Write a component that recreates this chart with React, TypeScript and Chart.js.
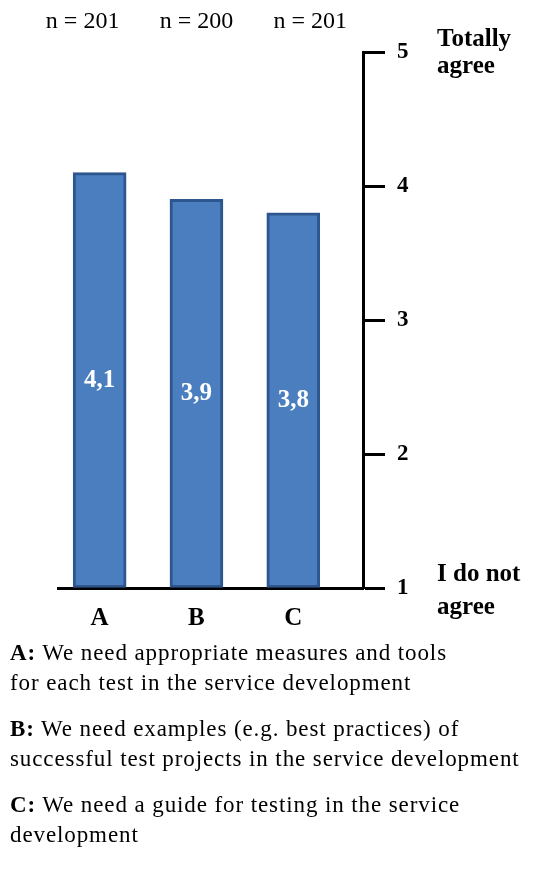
import React, { useEffect, useRef } from "react";
import { Chart, registerables } from "chart.js";

Chart.register(...registerables);

const categories = ["A", "B", "C"];
const means = [4.1, 3.9, 3.8];
const meanLabels = ["4,1", "3,9", "3,8"];
const sampleSizes = ["n = 201", "n = 200", "n = 201"];
const yMin = 1;
const yMax = 5;
const topCaption = ["Totally", "agree"];
const bottomCaption = ["I do not", "agree"];

const SERIF = '"Liberation Serif", "Times New Roman", serif';
const CANVAS_H = 640;

const annotatePlugin = {
  id: "annotate",
  afterDatasetsDraw(chart: any) {
    const ctx = chart.ctx;
    const meta = chart.getDatasetMeta(0);
    const yScale = chart.scales.y;
    ctx.save();
    ctx.textAlign = "center";
    ctx.textBaseline = "middle";
    ctx.fillStyle = "#ffffff";
    ctx.font = `bold 25px ${SERIF}`;
    meta.data.forEach((bar: any, i: number) => {
      const p = bar.getProps(["x", "y", "base"], true);
      ctx.fillText(meanLabels[i], p.x, (p.y + p.base) / 2);
    });
    ctx.fillStyle = "#000000";
    ctx.textBaseline = "alphabetic";
    ctx.font = `24px ${SERIF}`;
    meta.data.forEach((bar: any, i: number) => {
      const p = bar.getProps(["x"], true);
      ctx.fillText(sampleSizes[i], p.x + (i - 1) * 17, 28);
    });
    ctx.textAlign = "left";
    ctx.font = `bold 25px ${SERIF}`;
    const x0 = chart.chartArea.right + 74;
    const yTop = yScale.getPixelForValue(yMax);
    const yBot = yScale.getPixelForValue(yMin);
    ctx.fillText(topCaption[0], x0, yTop - 6);
    ctx.fillText(topCaption[1], x0, yTop + 21);
    ctx.fillText(bottomCaption[0], x0, yBot - 7);
    ctx.fillText(bottomCaption[1], x0, yBot + 26);
    ctx.restore();
  },
};

export default function App() {
  const canvasRef = useRef<HTMLCanvasElement | null>(null);

  useEffect(() => {
    if (!canvasRef.current) return;
    const chart = new Chart(canvasRef.current, {
      type: "bar",
      data: {
        datasets: [
          {
            data: means.map((v, i) => ({ x: i, y: v })),
            backgroundColor: "#4a7ebf",
            borderColor: "#2d568f",
            borderWidth: 3,
            borderSkipped: false,
            barThickness: 53,
            base: yMin,
          } as any,
        ],
      },
      options: {
        animation: false,
        responsive: true,
        maintainAspectRatio: false,
        layout: { padding: { left: 58, top: 52, right: 0, bottom: 0 } },
        plugins: { legend: { display: false }, tooltip: { enabled: false } },
        scales: {
          x: {
            type: "linear",
            offset: false,
            min: -0.43,
            max: 2.72,
            afterBuildTicks: (s: any) => {
              s.ticks = categories.map((_, i) => ({ value: i }));
            },
            afterFit: (s: any) => {
              s.height = CANVAS_H - 588;
            },
            grid: { display: false, drawTicks: false, offset: false },
            border: { display: true, color: "#000", width: 3 },
            ticks: {
              callback: (v: any) => categories[v] ?? "",
              color: "#000",
              font: { family: SERIF, size: 25, weight: "bold" },
              padding: 16,
              maxRotation: 0,
            },
          },
          y: {
            position: "right",
            min: yMin,
            max: yMax,
            afterFit: (s: any) => {
              s.width = 184;
            },
            grid: {
              drawOnChartArea: false,
              drawTicks: true,
              tickLength: 22,
              tickWidth: 3,
              color: "#000",
            },
            border: { display: true, color: "#000", width: 3 },
            ticks: {
              stepSize: 1,
              color: "#000",
              padding: 12,
              font: { family: SERIF, size: 23, weight: "bold" },
            },
          },
        },
      } as any,
      plugins: [annotatePlugin],
    });
    return () => chart.destroy();
  }, []);

  const pStyle: React.CSSProperties = { margin: "0 0 16px 0", whiteSpace: "nowrap" };

  return (
    <div style={{ position: "absolute", left: 0, top: 0, width: 547, height: 872, background: "#fff" }}>
      <div style={{ position: "absolute", left: 0, top: 0, width: 547, height: CANVAS_H }}>
        <canvas ref={canvasRef} />
      </div>
      <div
        style={{
          position: "absolute",
          left: 10,
          top: 638,
          fontFamily: SERIF,
          fontSize: 23,
          letterSpacing: "0.9px",
          lineHeight: "30px",
          color: "#000",
        }}
      >
        <p style={pStyle}>
          <b>A:</b> We need appropriate measures and tools
          <br />
          for each test in the service development
        </p>
        <p style={pStyle}>
          <b>B:</b> We need examples (e.g. best practices) of
          <br />
          successful test projects in the service development
        </p>
        <p style={pStyle}>
          <b>C:</b> We need a guide for testing in the service
          <br />
          development
        </p>
      </div>
    </div>
  );
}
